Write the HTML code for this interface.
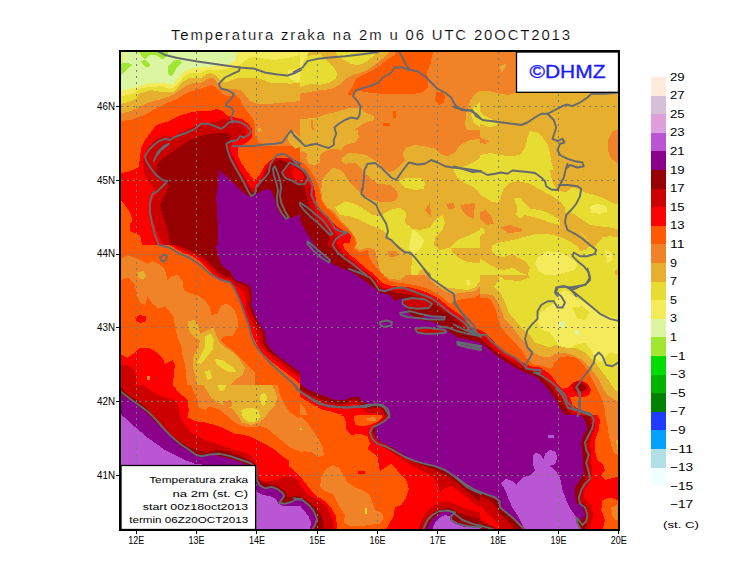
<!DOCTYPE html>
<html><head><meta charset="utf-8"><title>Temperatura zraka na 2m</title>
<style>
html,body{margin:0;padding:0;background:#fff;}
body{width:740px;height:582px;overflow:hidden;font-family:"Liberation Sans",sans-serif;}
svg{display:block;}
text{font-family:"Liberation Sans",sans-serif;fill:#000;}
.th{stroke:#fff;stroke-width:0.18px;paint-order:fill stroke;}
</style></head><body>
<svg width="740" height="582" viewBox="0 0 740 582">
<rect x="0" y="0" width="740" height="582" fill="#fff"/>
<defs>
<clipPath id="c0"><rect x="120" y="51" width="180" height="194"/></clipPath>
<clipPath id="c1"><rect x="120" y="245" width="180" height="140"/></clipPath>
<clipPath id="c2"><rect x="120" y="385" width="180" height="144"/></clipPath>
<clipPath id="c3"><rect x="300" y="51" width="180" height="79"/></clipPath>
<clipPath id="c4"><rect x="300" y="130" width="180" height="145"/></clipPath>
<clipPath id="c5"><rect x="300" y="275" width="180" height="140"/></clipPath>
<clipPath id="c6"><rect x="300" y="415" width="180" height="114"/></clipPath>
<clipPath id="c7"><rect x="480" y="51" width="140" height="119"/></clipPath>
<clipPath id="c8"><rect x="480" y="170" width="140" height="105"/></clipPath>
<clipPath id="c9"><rect x="480" y="275" width="140" height="140"/></clipPath>
<clipPath id="c10"><rect x="480" y="415" width="140" height="114"/></clipPath>
<clipPath id="cm"><rect x="121" y="52" width="497" height="477"/></clipPath>
</defs>
<g shape-rendering="crispEdges">
<g clip-path="url(#c0)">
<rect x="120" y="51" width="180" height="194" fill="#FF5A00"/>
<polygon fill="#F08228" points="115,45 305,45 305,148.8 300,147.5 290,145.5 280,146.2 265,145.5 258.8,142.5 255,135 255,127.5 253.8,120 250,115 246.2,110 242.5,105 240,98.8 235,95 227.5,96.2 222.5,93.8 217.5,88.8 212.5,85 207.5,86.2 202.5,88 195,90 185,93.8 177.5,98.8 165,103.8 152.5,110.5 143.8,115 137.5,117.5 130,120 115,121.5"/>
<polygon fill="#E6AF2D" points="115,45 305,45 305,101.2 300,101.2 285,102.5 270,103.8 257.5,103.8 250,101.2 245,95 240,90 232.5,88.8 225,90 220,86.2 216.2,81.2 212.5,77.5 207.5,78.8 201.2,82.5 195,82.5 187.5,85 180,90 172.5,95 162.5,98.8 152.5,101.2 142.5,105 136.2,108.8 127.5,112 115,114.5"/>
<polygon fill="#E6AF2D" points="287.5,133.8 292.5,130 300,137.5 305,145 295,148.8 288.8,142.5"/>
<polygon fill="#E6AF2D" points="258,128 260.5,128 262,130.5 259.5,132 257.5,130.5"/>
<polygon fill="#E6DC32" points="115,45 305,45 305,82.5 300,82.5 290,83.8 280,82.5 270,82.5 260,78.8 250,77.5 240,77.5 232.5,80 225,82.5 220,80 215,75 211.2,73 207.5,73.8 201.2,78 190,77.5 183.8,81.2 178.8,86.2 173.8,92 162.5,92 150,90 138.8,93.8 136.2,98.8 127.5,102 115,105.5"/>
<polygon fill="#F5EB5A" points="115,45 305,45 305,54.5 300,55 290,57.5 275,60 265,58.8 255,57 248.8,58 242.5,63 235,67 222.5,69.5 207.5,70 201.2,73 190,72.5 183.8,77 178.8,82.5 173.8,88 168.8,88.8 162.5,86.2 150,87 138.8,88.8 136.2,92.5 127.5,95 115,98"/>
<polygon fill="#F5EB5A" points="287.5,70 300,68.8 305,68.8 305,82.5 300,82.5 291.2,80 287.5,75"/>
<polygon fill="#DCF5A0" points="123,45 237.5,45 237.5,51 235,61.2 227.5,64.5 215,66.2 197.5,67.5 190,68.8 183.8,72 177.5,78.8 172.5,85 162.5,82.5 150,82.5 135,87.5 115,92.5 115,67.5 123,62.5"/>
<polygon fill="#A0E632" points="137,50 169.5,50 167.5,55 163,59.5 158,56.5 155,54.5 148.8,55.5 145,59.5 141,55"/>
<polygon fill="#A0E632" points="141,61 145,60 150,65 148,67.5 144,66"/>
<polygon fill="#A0E632" points="120,64 127,62.5 133,65 128,68 124,73 120,76.5"/>
<polygon fill="#A0E632" points="173,61 179,59.5 182,63 177,67 174,73 171,76.5 167.5,73 167.5,67"/>
<polygon fill="#FF0000" points="115,198.8 115,175 123.8,172.5 130,171.2 138.8,167 140,157.5 141.2,147.5 145,140 152.5,130 156.2,125 168.8,121.2 180,115.5 190,112.5 197.5,111.2 210,111.2 216.2,109 222.5,111.2 227.5,115.5 235,117.5 242.5,119.5 248.8,123.8 252.5,130 252,137.5 247.5,142.5 240,146.2 237.5,150 238,156.2 241.2,162.5 245,168.8 250,175 253.8,180 257.5,177.5 261.2,172.5 265,165.5 270,160 277.5,157.5 290,157.5 300,162.5 305,165 305,250 142.5,250 141.2,240 140,235 136.2,233.8 130.5,231.2 129.5,225 132.5,220 130,212.5 125,205 120,198.8"/>
<polygon fill="#CD0000" points="142.5,162.5 145,155 147.5,148.8 152.5,142.5 158.8,137.5 165,135 172.5,137.5 177.5,133.8 187.5,128.8 200,125 207.5,123 215,122 222.5,118.8 230,120 235,122.5 242.5,125 246.2,130 245,136.2 238.8,140 232.5,142.5 230,147.5 232.5,155 236.2,162.5 240,170 245,177.5 250,186.2 253.8,188.8 258.8,183.8 262.5,175 267.5,166.2 273.8,160 280,158 290,160 300,165.5 305,168.8 305,250 165,250 163.8,245 158.8,236.2 155,227.5 151.2,217.5 150,207.5 152.5,200 156.2,192.5 152.5,186.2 147.5,180 143.8,172.5"/>
<polygon fill="#960000" points="157.5,163.8 161.2,160 167.5,155 175,150 182.5,145 190,140 200,136.2 210,133.8 220,132.5 227.5,133 231.2,136.2 228.8,141.2 226.2,147.5 228.8,155 232.5,162.5 236.2,168.8 240,175 245,182.5 250,190 252.5,193 256.2,190 260,185 265,175 270,167.5 275,161.2 281.2,160 290,163.8 300,170 305,172.5 305,250 171.2,250 170,245 168.8,235 166.2,225 162.5,215 160,205 165,195 168.8,186.2 166.2,182.5 160,180 156.2,172.5"/>
<polygon fill="#8B008B" points="218.8,170 225,175 232.5,182.5 245,193.8 251.2,197.5 255,195 261.2,191.2 267.5,188.8 271.2,190.5 275,200 277.5,210 281.2,215 287.5,218.8 293.8,217 300,213.8 305,212.5 305,250 218,250 218,230 217,212.5 216.2,197.5 218,185"/>
<polygon fill="#CD0000" points="283.5,170.6 290.1,163.1 296.7,165 304.3,169.7 308.1,175.4 305.2,182.9 298.6,183.9 291,180.1 285.4,177.3"/>
<polygon fill="#FF0000" points="291,172.5 294.8,167.8 302.4,172.5 304.3,178.2 298.6,180.1 293.9,177.3"/>
</g>
<g clip-path="url(#c1)">
<rect x="120" y="245" width="180" height="140" fill="#FF5A00"/>
<polygon fill="#F08228" points="115,260 120,258.8 127.5,255 137.5,258.8 147.5,263.8 152.5,261.2 158.8,263.8 165,270 167.5,280 171.2,276.2 177.5,275 182.5,281.2 183.8,290 190,293.8 197.5,295 205,300 210,307.5 211.2,315 217.5,313.8 221.2,305 227.5,303.8 233.8,308.8 237.5,317.5 237.5,327.5 232.5,336.2 225,336.2 220,340 225,345 232.5,350 240,357.5 247.5,365 255,372.5 255,390 187.5,390 186.2,375 185,365 182.5,355 181.2,345 177.5,337.5 175,327.5 173.8,317.5 168.8,310 165,306.2 158.8,308.8 152.5,303.8 147.5,296.2 145,305 140,302.5 136.2,293.8 135,285 128.8,277.5 120,280 115,280"/>
<polygon fill="#E6AF2D" points="137.5,272.5 143.8,271.2 146.2,276.2 142.5,280 138,277.5"/>
<polygon fill="#E6AF2D" points="187.5,321.2 195,320 198.8,326.2 200,333.8 207.5,330 213.8,327.5 216.2,335 220,342.5 225,347.5 232.5,352.5 240,360 245,367.5 242.5,375 235,380 225,390 197.5,390 195,375 192.5,365 193.8,355 198.8,347.5 200,340 195,337.5 190,332.5 187.5,326.2"/>
<polygon fill="#E6DC32" points="205,336.2 211.2,333.8 213.8,340 212.5,350 207.5,356.2 201.2,363.8 197.5,362.5 201.2,355 205,347.5"/>
<polygon fill="#E6DC32" points="215,358.8 222.5,360 231.2,366.2 236.2,371.2 230,372.5 222.5,368.8 216.2,363.8"/>
<polygon fill="#E6DC32" points="204.5,371.2 210,370 212.5,377.5 207.5,380"/>
<polygon fill="#FF0000" points="115,352.5 120,353.8 127.5,357.5 135,352.5 140,347.5 147.5,347.5 155,351.2 162.5,357.5 165,363.8 172.5,360 175,365 173.8,375 172.5,390 115,390"/>
<polygon fill="#CD0000" points="115,366.2 126.2,364.5 132.5,367.5 136.2,375 135,390 115,390"/>
<polygon fill="#FF0000" points="135.5,317.5 140,315 145.5,316.2 145.5,321.2 140,323 136.2,321.2"/>
<polygon fill="#F08228" points="147,376.2 149.5,376.2 149.5,379.5 147,379.5"/>
<polygon fill="#FF0000" points="160,237.5 171.2,246.2 182.5,252.5 192.5,256.2 200,261.2 206.2,267.5 212.5,273.8 220,279.5 228.8,282 232.5,286.2 236.2,291.2 240,298.8 242.5,307.5 245,315 247.5,322.5 251.2,332.5 255,341.2 257.5,346.2 262.5,353.8 272.5,362.5 282.5,370 292.5,377.5 300,383.8 305,387.5 305,237.5"/>
<polygon fill="#CD0000" points="163.8,237.5 175,246.2 185,251.2 195,255 202.5,260 208.8,266.2 215,272.5 222.5,278 230,280 234.5,285 240,288.8 245,293.8 246.2,302.5 246.2,308.8 250,317.5 253.8,326.2 258.8,336.2 260,343.8 265,351.2 275,360 285,367.5 295,375 305,381.2 305,237.5"/>
<polygon fill="#960000" points="168.8,237.5 177.5,245.5 187.5,249.5 197.5,253.8 205,258.8 211.2,265 217.5,271.2 225,276.2 231.2,278 236.2,282.5 243.8,285 248.8,288.8 250,297.5 248.8,305 252.5,315 257.5,325 262.5,333.8 262.5,342.5 267.5,350 277.5,357.5 287.5,365 297.5,372.5 305,377 305,237.5"/>
<polygon fill="#8B008B" points="215,237.5 216.2,247.5 218.8,257.5 222.5,266.2 230,271.2 235,280 242.5,282.5 250,286.2 252.5,295 251.2,305 255,315 260,325 265,332.5 266.2,342.5 271.2,350 280,357.5 290,365 300,372.5 305,376.2 305,237.5"/>
</g>
<g clip-path="url(#c2)">
<rect x="120" y="385" width="180" height="144" fill="#FF5A00"/>
<polygon fill="#F08228" points="190,382.5 193.8,392.5 197.5,400 198.8,407.5 205,410 210,406.2 220,410 227.5,416.2 235,422.5 242.5,426.2 251.2,427.5 260,426.2 267.5,428.8 275,435 282.5,441.2 290,447.5 300,451.2 305,452.5 305,420 297.5,417.5 290,412.5 285,405 280,395 277.5,382.5"/>
<polygon fill="#E6AF2D" points="202.5,382.5 206.2,390 211.2,397.5 217.5,402.5 225,406.2 232.5,408.8 237.5,415 242.5,422.5 250,425 258.8,422.5 265,417.5 270,410 275,405 277.5,397.5 275,390 270,382.5"/>
<polygon fill="#F08228" points="222.5,401.2 231.2,400 232.5,406.2 225,407.5"/>
<polygon fill="#E6DC32" points="216.2,382.5 226.2,382.5 225,390 220,391.2"/>
<polygon fill="#E6DC32" points="241.2,410 250,407.5 258.8,410 260,417.5 253.8,422.5 246.2,421.2 242.5,416.2"/>
<polygon fill="#E6DC32" points="259.5,395 265,392.5 267.5,398.8 263.8,406.2 260,402.5"/>
<polygon fill="#FF0000" points="171.2,382.5 177.5,391.2 187.5,400 188.8,410 187.5,417.5 195,421.2 205,422.5 215,425 225,428.8 235,433.8 245,435 255,438.8 265,443.8 275,450 282.5,456.2 289.5,461 288.8,466 294.8,471.2 301.5,478 308.5,486.8 308.5,535 115,535 115,382.5"/>
<polygon fill="#CD0000" points="140,382.5 150,390 157.5,395 165,397.5 175,400 178.8,407.5 180,417.5 185,425 190,431.2 197.5,436.2 207.5,441.2 217.5,443.8 227.5,447.5 237.5,450.5 247.5,453.8 255,460 258,475 260.2,479.8 267.2,481.5 277.5,479.8 284.2,476.2 293,477.2 299,481.5 301.5,486.8 306.8,493.5 307.5,535 115,535 115,382.5"/>
<polygon fill="#960000" points="115,383.8 121.8,388.2 128.5,395 137,400 145.5,407 152.2,414.5 159,422 165,428.8 172.5,436.2 181.2,442.5 190,447.5 198.8,451 207.5,452 217.5,449.5 227.5,451.2 237.5,454.5 247.5,458.8 255.5,464.5 256.8,477.8 262.5,483 271.5,483.8 278.8,486.2 286.2,492.5 287.5,497.5 295,496.2 301.5,495 307.5,497.5 307.5,535 115,535 115,382.5"/>
<polygon fill="#8B008B" points="115,387.5 120,392.5 125,397.5 132.5,401.2 140,407.5 147.5,413.8 155,421.2 162.5,428.8 170,436.2 177.5,443.8 187.5,450 196.2,456.2 205,456.2 215,455 225,457.5 235,460 245,463.8 255,467.5 256.8,480.8 260.2,485.8 265.5,488.5 271.5,486.8 277.5,489.2 282.5,492.8 284.2,496 281,500.5 279.2,503 284.2,503.8 291.2,502 296.2,499.5 301.5,498.8 306.2,502 306.2,535 115,535"/>
<polygon fill="#BA55D3" points="115,410 120,413.8 126.2,418.8 132.5,425 140,431.2 147.5,437.5 156.2,443.8 165,450 175,455 185,460 195,463.8 255,470 255.5,490 256.8,491.8 263.8,495.2 270.5,496 275.8,498.8 278.2,503.8 284.2,506.5 293,505.5 299.8,505.5 304,510.8 306.2,535 115,535"/>
</g>
<g clip-path="url(#c3)">
<rect x="300" y="51" width="180" height="79" fill="#F08228"/>
<polygon fill="#E6AF2D" points="295,45 389.6,45 389.6,51.8 382.8,58.5 376.1,63.6 369.3,68.6 362.6,72 354.1,74.6 345.7,78.8 340.6,83.9 333.9,88.1 325.4,89.8 317,90.6 308.5,92.3 301.8,93.1 295,95.7"/>
<polygon fill="#E6DC32" points="295,60.2 305.1,56.8 311.9,55.1 320.3,54.3 327.1,60.2 333.9,67 337.2,73.7 335.5,78.8 328.8,83 320.3,84.7 311.9,83.9 305.1,85.5 300.1,87.2 295,88.1"/>
<polygon fill="#F5EB5A" points="295,45 309.4,45 309.4,51.8 306.8,56.8 303.4,61 302.6,68.6 300.1,75.4 295,77.9"/>
<polygon fill="#E6DC32" points="333.9,45 376.1,45 376.1,51.8 374.4,55.1 369.3,59.4 362.6,63.6 357.5,65.3 350.7,63.6 344,60.2 337.2,56.8"/>
<polygon fill="#FF5A00" points="398.9,45 433.5,45 432.5,55.1 430.1,65.3 426.8,72 428.4,80.5 428.4,87.2 423.4,92.3 413.2,94 403.1,94 393,94 382.8,94 374.4,93.1 365.9,92.3 359.2,90.6 354.1,92.3 350.7,95.7 347.4,94 352.4,87.2 355.8,78.8 362.6,75.4 369.3,72 377.8,67 386.2,60.2 394.7,55.1"/>
<polygon fill="#FF5A00" points="436.2,92.5 442.5,91.2 445,96.2 443.8,102.5 438.8,105 435,100"/>
<polygon fill="#FF5A00" points="393.2,111.2 395.8,111.2 395.8,117.5 393.2,117.5"/>
<polygon fill="#FF5A00" points="382.5,123.5 390,123 389.5,126 383,126.5"/>
<polygon fill="#E6AF2D" points="317,117.6 325.4,114.3 337.2,111.7 349.1,108.3 359.2,107.5 365.9,112.6 374.4,115.9 374.4,120.2 367.6,121.9 362.6,124.4 357.5,127.8 352.4,131.1 349.1,134.5 352.4,139.6 355.8,143 295,143 295,119.3 305.1,119.3 311.9,117.6"/>
<polygon fill="#F08228" points="311,120.2 313.2,119.3 313.6,129.5 311.6,129.5"/>
<polygon fill="#E6AF2D" points="485,90 480,91.2 475,93.8 470,101.2 466.2,112.5 465,125 467.5,131.2 485,131.2"/>
<polygon fill="#E6DC32" points="485,101.2 478.8,102.5 473.8,107.5 471.2,115 473.8,122.5 480,127.5 485,128.8"/>
</g>
<g clip-path="url(#c4)">
<rect x="300" y="130" width="180" height="145" fill="#F08228"/>
<polygon fill="#E6AF2D" points="295,127.5 357.5,127.5 358.8,137.5 355,142.5 345,145 341.2,150 332.5,148.8 325,151.2 320,155 320,162.5 315,165 308.8,163.8 306.2,158.8 307.5,153.8 302.5,151.2 295,153.8"/>
<polygon fill="#E6AF2D" points="485,137.5 480,138.8 470,140 460,145 455,152.5 447.5,156.2 440,153.8 435,148.8 425,146.2 415,145 406.2,147.5 402.5,153.8 405,160 400,165 395,170 390,172.5 382.5,167.5 377.5,162.5 370,157.5 366.2,155 360,153.8 348.8,152.5 342.5,157.5 341.2,161.2 345,163.8 355,162.5 360,167.5 363.8,172.5 370,177.5 377.5,183.8 390,185 395,188.8 398.8,195 395,201.2 382.5,202.5 372.5,200 365,196.2 357.5,190 350,182.5 345,175 340,170 332.5,167.5 327.5,172.5 322.5,180 321.2,190 322.5,200 327.5,207.5 333.8,211.2 342.5,222.5 348.8,228.8 353.8,235 357.5,242.5 355,247.5 360,250 367.5,247.5 375,250 377.5,260 380,270 381.2,280 485,280"/>
<polygon fill="#F08228" points="425,210 430,202.5 431.2,217.5"/>
<polygon fill="#F08228" points="446.2,203.8 453.8,203 455,208 448.8,210"/>
<polygon fill="#F08228" points="460,205 475,203 473.8,218.8 467.5,216.2 462.5,211.2"/>
<polygon fill="#F08228" points="388,251.2 396.2,250.5 397.5,256.2 388.8,257.5"/>
<polygon fill="#E6DC32" points="335,207.5 345,201.2 355,203.8 365,210 372.5,215 380,216.2 390,210 400,207.5 406.2,212.5 405,222.5 412.5,228.8 420,230 430,227.5 435,220 442.5,215 445,222.5 442.5,230 435,237.5 433.8,245 440,250 450,247.5 457.5,240 470,235 480,230 485,228.8 485,282.5 435,282.5 431.2,273.8 425,268.8 420,270 415,280 410,280 412.5,255 405,250 395,242.5 390,237.5 382.5,230 370,225 360,220 350,216.2 340,215"/>
<polygon fill="#E6DC32" points="453,169 465.8,166.2 474.2,162 483,156 486.2,153.8 486.2,198.8 483,196.2 474.2,187.8 465.8,183.5 457.2,177.5"/>
<polygon fill="#E6DC32" points="398.8,181.2 407.5,177.5 420,177.5 425,182.5 423.8,188.8 415,190 405,187.5"/>
<polygon fill="#F5EB5A" points="412.5,230 417.5,232.5 423.8,240 421.2,247.5 415,253.8 408.8,250 410,240"/>
<polygon fill="#E6AF2D" points="451,247.5 485,247.5 485,262.5 475,263 465,261.2 457.5,257.5 452.5,252.5"/>
<polygon fill="#FF5A00" points="295,157.5 302.5,162.5 310,170 316.2,180 320,190 321.2,200 326.2,207.5 332.5,212.5 335,216.2 342.5,223.8 348.8,230 353.8,236.2 356.2,243.8 353.8,248.8 360,252.5 367.5,250 370,258.8 375,266.2 381.2,272.5 390,280 295,280"/>
<polygon fill="#FF0000" points="295,162.5 301.2,167.5 307.5,175 312.5,182.5 315,192.5 316.2,202.5 320,210 327.5,216.2 335,225 342.5,230 351.2,235 350,242.5 342.5,243.8 345,250 355,258.8 365,267.5 375,275 381.2,280 295,280"/>
<polygon fill="#CD0000" points="295,167.5 300,170 305,177.5 310,186.2 311.2,197.5 313.8,207.5 320,216.2 327.5,223.8 333.8,230 338.8,237.5 336.2,242.5 340,248.8 350,258.8 362.5,269.5 373.8,277.5 377.5,280 295,280"/>
<polygon fill="#960000" points="295,173.8 298.8,176.2 303.8,183.8 306.2,195 308.8,205 312.5,215 318.8,222.5 325,230 330,237.5 327.5,245 337.5,252.5 347.5,262.5 360,271.2 372.5,281.2 295,281.2"/>
<polygon fill="#8B008B" points="295,215 300,220 305,230 310,237.5 317.5,248.8 325,257.5 332.5,263.8 340,267.5 350,271.2 360,277.5 365,280 295,280"/>
<polygon fill="#CD0000" points="283.5,170.6 290.1,163.1 296.7,165 304.3,169.7 308.1,175.4 305.2,182.9 298.6,183.9 291,180.1 285.4,177.3"/>
<polygon fill="#FF0000" points="291,172.5 294.8,167.8 302.4,172.5 304.3,178.2 298.6,180.1 293.9,177.3"/>
</g>
<g clip-path="url(#c5)">
<rect x="300" y="275" width="180" height="140" fill="#8B008B"/>
<polygon fill="#960000" points="337.5,266.2 350,271.2 360,277.5 370,285 380,292.5 390,295 395,301.2 401.2,297.5 403.8,305 407.5,311.2 412.5,316.2 420,320 430,321.2 437.5,323.8 445,327.5 450,332.5 457.5,337.5 470,340 480,342.5 485,343.8 485,267.5"/>
<polygon fill="#CD0000" points="345,260 360,271.2 372.5,281.2 380,288.8 392.5,292 402.5,293.8 410,295 420,297.5 430,301.2 437.5,306.2 442.5,311.2 448.8,313.8 455,318.8 460,323.8 465,330 475,333.8 485,336.2 485,267.5"/>
<polygon fill="#CD0000" points="403.8,300 412.5,298.8 425,300 431.2,303.8 427.5,307.5 415,307.5 406.2,306.2"/>
<polygon fill="#CD0000" points="417.5,329.5 430,328 445,329.5 447.5,332.5 435,333.8 420,332.5"/>
<polygon fill="#8B008B" points="423.8,316.2 445,316.2 445,320 423.8,320"/>
<polygon fill="#FF0000" points="351.2,260 362.5,270 373.8,277.5 379.5,285 385,288 395,289.5 405,290 415,292.5 425,295 433.8,298.8 441.2,305 447.5,310 455,315 461.2,320 466.2,326.2 475,331.2 485,333.8 485,267.5"/>
<polygon fill="#FF5A00" points="355,260 365,268.8 375,275 382.5,283 390,285.5 400,287 410,287.5 420,290 430,293.8 437.5,297.5 445,303.8 451.2,308.8 458.8,313.8 465,320 470,326.2 480,330 485,331.2 485,267.5"/>
<polygon fill="#F08228" points="362.5,258.8 370,266.2 380,272.5 388.8,280.5 397.5,282.5 407.5,283.8 417.5,285.5 427.5,288.8 435,292.5 442.5,297.5 450,303.8 457.5,300 465,298.8 475,297.5 480,293.8 485,293.8 485,267.5"/>
<polygon fill="#E6AF2D" points="378.8,267.5 405,267.5 405,276.2 400,280 390,278.8 381.2,273.8"/>
<polygon fill="#E6AF2D" points="422.5,267.5 427.5,277.5 435,285 445,291.2 455,293.8 465,292.5 475,291.2 481.2,285 485,282.5 485,267.5"/>
<polygon fill="#E6DC32" points="425,267.5 431.2,277.5 438.8,283.8 447.5,287.5 457.5,288.8 467.5,290 475,287.5 480,281.2 481.2,267.5"/>
<polygon fill="#F5EB5A" points="466.2,280.5 469.5,280 470,284.5 467,285"/>
<polygon fill="#960000" points="295,378.8 300,383.8 306.2,388.8 315,392.5 325,396.2 335,400 345,400 351.2,397 358.8,397.5 363.8,402.5 372.5,404.5 381.2,403.8 386.2,407.5 388.8,415 390,420 295,420"/>
<polygon fill="#CD0000" points="295,383.8 300,388.8 307.5,393.8 316.2,397.5 325,401.2 335,403.8 345,403.8 351.2,400 357.5,400.5 362.5,406.2 370,408.8 380,407.5 383.8,411.2 385,420 295,420"/>
<polygon fill="#FF0000" points="295,387.5 300,392.5 307.5,397.5 316.2,402 325,405 335,407 345,407 351.2,403.8 356.2,403.8 361.2,408.8 367.5,412.5 377.5,412.5 381.2,420 295,420"/>
<polygon fill="#FF5A00" points="295,392.5 301.2,397.5 308.8,402.5 316.2,406.2 322.5,410 330,411.2 337.5,413.8 345,415 347.5,420 295,420"/>
<polygon fill="#F08228" points="295,400 300,403.8 305,408.8 307.5,415 308.8,420 295,420"/>
</g>
<g clip-path="url(#c6)">
<rect x="300" y="415" width="180" height="114" fill="#FF5A00"/>
<polygon fill="#F08228" points="295,415 300,416.2 307.5,422.5 312.5,430 317.5,437.5 322.5,447.5 323.8,455 318.8,457.5 312.5,452.5 305,451.2 295,452.5"/>
<polygon fill="#F08228" points="321.2,477.5 325,470 332.5,465 338.8,467.5 343.8,475 347.5,482.5 355,487.5 362.5,490 370,495 372.5,502.5 375,510 381.2,512.5 383.8,517.5 380,523.8 370,525 360,526.2 350,526.2 343.8,522.5 345,515 340,507.5 336.2,500 332.5,493.8 325,491.2 320,486.2"/>
<polygon fill="#E6DC32" points="295.8,425.5 298,425 302,429.5 300,430.5"/>
<polygon fill="#E6DC32" points="365,507.5 366.5,507.5 366.5,513.8 365,513.8"/>
<polygon fill="#FF0000" points="295,400 305,403.8 315,408.8 325,411.2 335,413.8 343.8,416.2 346.2,422.5 346.2,430 351.2,435 360,433.8 367.5,436.2 370,443.8 367.5,448.8 372.5,452.5 377.5,457.5 378.8,465 380,471.2 385,467.5 391.2,463.8 395,467.5 400,473.8 406.2,480 408.8,488.8 406.2,497.5 401.2,505 395,507.5 393.8,515 390,522.5 386.2,528.8 385,540 485,540 485,387.5 295,387.5"/>
<polygon fill="#FF5A00" points="353.8,416.2 362.5,413.8 372.5,412.5 381.2,412 382.5,416.2 378.8,421.2 370,425 362.5,426.2 355,425"/>
<polygon fill="#F08228" points="366.2,418 375,417 376.2,420.5 367.5,421.5"/>
<polygon fill="#FF0000" points="295,472.5 301.5,478 308.5,486.8 315.2,495.2 323.8,500.5 330.8,507.2 335.8,515.8 337.5,529.5 338,540 295,540"/>
<polygon fill="#FF0000" points="357.5,470.8 365,470.5 365,473.5 358,473.8"/>
<polygon fill="#CD0000" points="295,395 305,400 315,405 325,407.5 335,410 345,410 355,408.8 365,409.5 375,407.5 382.5,408.8 385,413.8 381.2,420 375,425 370,430 371.2,436.2 376.2,442.5 382.5,446.2 390,451.2 397.5,456.2 405,461.2 412.5,466.2 420,470 427.5,473.8 435,478.8 438.8,486.2 440,492.5 443.8,488.8 450,486.2 457.5,490 465,496.2 472.5,502.5 480,507.5 485,510 485,387.5 295,387.5"/>
<polygon fill="#960000" points="295,391.2 305,396.2 315,401.2 325,404.5 335,407 345,406.2 352.5,401.2 360,403.8 367.5,406.2 375,404.5 383.8,405.5 388.8,411.2 386.2,418.8 378.8,423.8 372.5,428.8 373.8,435 378.8,441.2 385,443.8 395,450 405,456.2 415,462.5 425,466.2 435,470 445,475 455,481.2 462.5,487.5 470,493.8 477.5,500 485,503.8 485,387.5 295,387.5"/>
<polygon fill="#8B008B" points="295,387.5 302.5,392.5 310,397.5 318.8,402.5 327.5,405 337.5,406.2 347.5,405 352.5,398.8 358.8,400 367.5,403.8 375,402.5 382.5,403.8 388.8,408.8 390,415 385,421.2 377.5,426.2 375,431.2 376.2,437.5 381.2,442.5 390,446.2 400,452.5 410,458.8 420,463 430,465 440,468.8 450,473.8 457.5,480 465,486.2 472.5,491.2 480,493.8 485,496.2 485,387.5"/>
<polygon fill="#CD0000" points="415,540 417.5,530 421.2,520 426.2,512.5 432.5,506.2 440,502.5 447.5,501.2 455,503.8 462.5,507.5 470,510 480,512.5 485,513.8 485,540"/>
<polygon fill="#960000" points="420,540 422.5,530 426.2,521.2 431.2,515 437.5,510 445,507.5 452.5,508.8 457.5,512.5 465,515 475,517.5 485,518.8 485,540"/>
<polygon fill="#8B008B" points="423.8,540 426.2,530 430,522.5 435,516.2 441.2,512.5 448.8,511.2 455,513.8 451.2,517.5 455,521.2 465,525 475,526.2 485,527.5 485,540"/>
<polygon fill="#BA55D3" points="430,540 432,530 435,522.5 440,517.5 445,515 450,516.2 450,520 455,523.8 465,527 480,528 485,528.8 485,540"/>
<polygon fill="#CD0000" points="295,481.2 301.5,486.8 306.8,493.5 313.5,497.8 322,502 328.2,509 332.5,517.5 334.2,529.5 334.5,540 295,540"/>
<polygon fill="#960000" points="295,493.8 302.5,497.5 310,502.5 317.5,508.8 322.5,517.5 323.8,528.8 323.8,540 295,540"/>
<polygon fill="#8B008B" points="295,497.5 301.5,498.8 305,501.2 309.2,505.5 312.8,510.8 316,517.5 314.5,523.5 311.8,528.8 310,540 295,540"/>
<polygon fill="#BA55D3" points="295,503.8 299.8,505.5 304,510.8 308.5,515.8 311,522.8 310,529.5 308.8,540 295,540"/>
</g>
<g clip-path="url(#c7)">
<rect x="480" y="51" width="140" height="119" fill="#E6AF2D"/>
<polygon fill="#F08228" points="455,45 516.2,45 516.2,92.5 508.8,95 500,93.8 490,91.2 480,91.2 470,95 466.2,102.5 465,110 463.8,120 467.5,127.5 475,133.8 482.5,138.8 490,141.2 485,143.8 475,142.5 465,143.8 455,147.5"/>
<polygon fill="#E6AF2D" points="500,66.2 506.2,63.8 505,68.8 501.2,72"/>
<polygon fill="#FF5A00" points="461.2,51 470.5,51 470,54.5 462,54.5"/>
<polygon fill="#F08228" points="620,128.8 612.5,131.2 608,140 607.5,150 611.2,158.8 620,165"/>
<polygon fill="#E6DC32" points="472.5,110.5 477.5,109.5 485,116.2 495,121.2 497.5,125 490,127.5 480,123.8 475,118.8"/>
<polygon fill="#E6DC32" points="455,168.8 462.5,165 472.5,160 480,155 490,153 500,155 510,156.2 520,155 525,147.5 527.5,137.5 530,131.2 537.5,132.5 542.5,137.5 547.5,143.8 550,152.5 551.2,162.5 555,172.5 557.5,181.2 565,185 572.5,190 575,195 455,195"/>
<polygon fill="#F5EB5A" points="455,175 462.5,171.2 470,172.5 477.5,177.5 482.5,183.8 480,190 475,195 455,195"/>
</g>
<g clip-path="url(#c8)">
<rect x="480" y="170" width="140" height="105" fill="#E6DC32"/>
<polygon fill="#E6AF2D" points="455,150 522.5,150 520,155 505,157.5 492.5,155 480,160 470,161.2 455,165"/>
<polygon fill="#E6AF2D" points="550,150 645,150 645,200 615,203.8 605,198.8 595,195 585,192.5 580,190 572.5,187.5 565,192.5 557.5,190 552.5,182.5 550,172.5 548.8,162.5"/>
<polygon fill="#F08228" points="620,150 610,150 611.2,157.5 616.2,163.8 620,165"/>
<polygon fill="#E6AF2D" points="455,180 467.5,185 477.5,192.5 483,196.2 491.5,201.5 498.5,203.2 503.5,189.5 508.8,183.5 517.2,181 529.2,183.5 540,189.5 550,195 558.8,200 565,207.5 566.2,217.5 572.5,225 580,232.5 585,237.5 591.2,245 585,250 580,251.2 577.5,246.2 567.5,240 557.5,236.2 547.5,233.8 535,233.8 527.5,236.2 517.5,238.8 507.5,241.2 498.8,242.5 492.5,245 491.2,250 495,255 502.5,257.5 512.5,253.8 517.5,257.5 525,261.2 530,267.5 527.5,275 520,272.5 512.5,267.5 505,270 497.5,268.8 490,265 482.5,260 475,257.5 465,257.5 455,260 455,247.5 465,245 475,240 485,232.5 482.5,227.5 472.5,228.8 462.5,233.8 455,237.5"/>
<polygon fill="#E6DC32" points="513.8,198.8 520,197.5 525,203.8 530,208.8 540,210 550,213.8 560,220 560,225 550,222.5 540,218.8 530,216.2 525,215 520,218.8 516.2,215 517.5,207.5"/>
<polygon fill="#E6AF2D" points="566.2,212.5 573.8,213.8 582.5,220 590,225 600,226.2 610,227.5 620,229.5 620,237.5 610,236.2 602.5,237.5 597.5,242.5 593.8,248.8 590,243.8 585,236.2 577.5,230 570,223.8 566.2,217.5"/>
<polygon fill="#E6AF2D" points="470,290 477.5,282.5 487.5,280 497.5,282.5 505,288.8 502.5,295 475,300"/>
<polygon fill="#F08228" points="460,206.2 467.5,202.5 475,206.2 472.5,217.5 466.2,216.2 461.2,211.2"/>
<polygon fill="#F08228" points="478.8,212.5 485,210 491.2,216.2 493.8,223.8 486.2,225 480,218.8"/>
<polygon fill="#F08228" points="501.2,227.5 508.8,225 522.5,228.8 521.2,232 507.5,233"/>
<polygon fill="#F08228" points="475,293.8 482.5,288.8 490,291.2 492.5,300 475,300"/>
<polygon fill="#F5EB5A" points="590,206.2 597.5,203.8 606.2,206.2 607.5,211.2 600,213.8 591.2,212.5"/>
<polygon fill="#F5EB5A" points="537.5,257.5 547.5,251.2 560,252.5 570,257.5 577.5,263.8 575,270 565,272.5 555,275 545,275 538.8,271.2 535,263.8"/>
<polygon fill="#F5EB5A" points="605,250 611.2,252.5 612.5,260 607.5,262.5"/>
<polygon fill="#E6AF2D" points="615,270 620,268.8 620,290 615,287.5"/>
</g>
<g clip-path="url(#c9)">
<rect x="480" y="275" width="140" height="140" fill="#E6DC32"/>
<polygon fill="#F5EB5A" points="556.2,295 565,290 572.5,295 580,300 587.5,305 595,310 605,315 620,320 620,355 610,352.5 605,357.5 600,362.5 595,357.5 591.2,350 585,342.5 575,345 567.5,350 560,347.5 555,340 550,332.5 542.5,330 537.5,322.5 540,312.5 547.5,307.5 555,302.5"/>
<polygon fill="#E6AF2D" points="498.2,267.5 529.2,267.5 529.2,277.5 520,281 505,280 498.2,275"/>
<polygon fill="#E6DC32" points="572.5,307.5 582.5,306.2 590,312.5 585,320 577.5,318.8"/>
<polygon fill="#DCF5A0" points="558.8,322 564.5,321.2 565,327 559.5,327.5"/>
<polygon fill="#DCF5A0" points="575,330.5 578.8,330 579,334.5 575.5,335"/>
<polygon fill="#E6AF2D" points="470,267.5 500,267.5 498.8,280 492.5,288.8 482.5,289.5 476.2,285 472.5,275"/>
<polygon fill="#E6AF2D" points="455,280 465,283.8 475,286.2 482.5,285 492.5,285 500,292.5 505,302.5 508.8,312.5 515,320 522.5,328.8 530,335 535,342.5 542.5,345 550,347.5 555,345 565,347.5 575,347.5 585,352.5 595,362.5 602.5,372.5 610,382.5 615,390 620,392.5 620,420 455,420"/>
<polygon fill="#F08228" points="455,288.8 465,292.5 475,293.8 485,293.8 492.5,295 497.5,301.2 501.2,310 505,320 512.5,327.5 520,337.5 527.5,345 532.5,352.5 540,356.2 550,357.5 555,353.8 562.5,352.5 572.5,355 582.5,360 590,367.5 597.5,377.5 602.5,387.5 607.5,395 615,400 620,402.5 620,420 455,420"/>
<polygon fill="#FF5A00" points="455,297.5 462.5,301.2 470,300 480,297.5 490,298.8 495,307.5 497.5,317.5 501.2,327.5 507.5,335 515,342.5 521.2,350 526.2,357.5 532.5,363.8 542.5,366.2 551.2,368.8 555,362.5 560,357.5 567.5,356.2 575,357.5 580,361.2 587.5,370 592.5,380 597.5,390 602.5,400 605,410 605,420 455,420"/>
<polygon fill="#FF0000" points="455,311.2 460,315 465,320 470,323.8 477.5,328.8 485,332.5 492.5,340 500,348.8 507.5,353.8 515,357.5 522.5,362.5 530,366.2 540,367.5 547.5,372.5 552.5,377.5 557.5,383.8 562.5,388.8 567.5,387.5 572.5,382.5 580,380 587.5,383.8 591.2,390 588.8,395 582.5,397.5 575,396.2 570,397.5 572.5,405 580,410 587.5,413.8 595,417.5 597.5,420 455,420"/>
<polygon fill="#CD0000" points="455,316.2 460,320 467.5,326.2 477.5,332.5 485,337.5 492.5,345 500,352.5 507.5,357.5 517.5,362.5 525,367.5 535,370 542.5,373.8 548.8,380 553.8,386.2 558.8,392.5 563.8,400 567.5,406.2 572.5,411.2 580,415 585,420 455,420"/>
<polygon fill="#CD0000" points="571.2,385 577.5,381.2 585,382.5 588.8,387.5 586.2,392.5 580,393.8 573.8,391.2"/>
<polygon fill="#960000" points="577.5,383.8 583.8,383.8 586.2,388.8 581.2,391.2 577.5,388.8"/>
<polygon fill="#960000" points="455,321.2 460,325 467.5,331.2 477.5,337 487.5,345 495,351.2 502.5,356.2 510,361.2 520,367.5 530,371.2 537.5,373.8 543.8,378.8 550,386.2 555,392.5 560,400 565,407.5 570,412.5 575,417.5 577.5,420 455,420"/>
<polygon fill="#8B008B" points="455,326.2 462.5,332.5 470,337.5 480,342.5 490,350 497.5,356.2 505,361.2 515,367.5 525,372.5 535,376.2 541.2,381.2 547.5,388.8 552.5,395 557.5,402.5 561.2,410 565,415 567.5,420 455,420"/>
</g>
<g clip-path="url(#c10)">
<rect x="480" y="415" width="140" height="114" fill="#8B008B"/>
<polygon fill="#BA55D3" points="501.2,483.8 506.2,478.8 512.5,481.2 516.2,485 522.5,477.5 530,475 535,470 532.5,462.5 532.5,456.2 536.2,452.5 541.2,455 543.8,460 545,453.8 550,450 555,451.2 557.5,457.5 555,463.8 550,466.2 555,470 560,477.5 562.5,490 566.2,500 571.2,510 576.2,517.5 580,525 582.5,528.8 582.5,540 527.5,540 522.5,525 517.5,515 512.5,507.5 508.8,500 506.2,492.5 503.8,487.5"/>
<polygon fill="#BA55D3" points="547.5,435.5 553.8,435 553.8,438 548.8,438.5"/>
<polygon fill="#960000" points="455,475 462.5,481.2 470,487.5 480,492.5 490,496.2 498.8,500 501.2,507.5 507.5,512.5 515,518.8 521.2,525 525,528.8 527.5,540 455,540"/>
<polygon fill="#CD0000" points="455,481.2 462.5,486.2 470,491.2 480,496.2 490,501.2 496.2,506.2 500,513.8 506.2,520 512.5,526.2 515,540 492.5,540 492.5,526.2 482.5,522.5 472.5,517.5 462.5,513.8 455,510"/>
<polygon fill="#FF0000" points="455,488.8 462.5,491.2 468.8,495 476.2,501.2 482.5,507.5 487.5,513.8 495,520 500,526.2 497.5,528.8 490,525 480,518.8 470,512.5 462.5,507.5 455,503.8"/>
<polygon fill="#960000" points="553.8,387.5 560,392.5 565,400 566.2,407.5 572.5,411.2 580,415 585,420 587.5,427.5 583.8,435 581.2,442.5 582.5,452.5 582.5,462.5 583.8,472.5 580,480 575,487.5 574.5,495 576.2,502.5 582.5,507.5 585,515 581.2,520 577.5,517.5 576.2,522.5 580,528.8 582.5,540 645,540 645,387.5"/>
<polygon fill="#CD0000" points="557.5,387.5 563.8,392.5 568.8,400 570,406.2 576.2,409.5 583.8,413 590,417.5 592,426.2 588.8,435 586.2,443.8 587.5,452.5 587,462.5 588.8,472.5 585,480 580,488.8 579.5,496.2 581.2,502.5 586.2,506.2 588.8,515 586.2,522.5 585,528.8 586.2,540 645,540 645,387.5"/>
<polygon fill="#FF0000" points="562.5,387.5 567.5,392.5 572.5,398.8 573.8,405 580,407.5 587.5,410.5 593.8,415 595.5,425 592.5,435 590,443.8 591.2,452.5 591.2,462.5 592.5,472.5 590,481.2 585,488.8 583.8,496.2 586.2,501.2 591.2,505 593.8,515 591.2,522.5 591.2,528.8 592.5,540 645,540 645,387.5"/>
<polygon fill="#FF5A00" points="580,387.5 581.2,397.5 582.5,405 590,407.5 596.2,412.5 600,420 598.8,430 595,440 594.5,450 597.5,460 602.5,463.8 605,470 601.2,475 605,480 615,477.5 620,476.2 620,387.5"/>
<polygon fill="#F08228" points="585,397.5 591.2,398.8 595,405 600,408.8 605,415 607.5,425 608.8,435 611.2,445 613.8,452.5 617.5,455 620,456.2 620,387.5 605,387.5 602.5,395 595,396.2"/>
<polygon fill="#E6AF2D" points="610,387.5 611.2,395 615,398.8 620,400 620,387.5"/>
<polygon fill="#E6AF2D" points="616.2,440 620,438.8 620,451.2 617,450"/>
<polygon fill="#FF5A00" points="602.5,500 610,497.5 617.5,500 620,501.2 620,540 605,540 602.5,530 605,520 601.2,510"/>
<polygon fill="#F08228" points="611.2,507.5 617.5,505 620,506.2 620,520 615,520 612,515"/>
</g>
</g>
<g stroke="#7a7a7a" stroke-width="1" stroke-dasharray="2,4" fill="none" shape-rendering="crispEdges">
<line x1="136.5" y1="52" x2="136.5" y2="529"/>
<line x1="196.5" y1="52" x2="196.5" y2="529"/>
<line x1="256.5" y1="52" x2="256.5" y2="529"/>
<line x1="317.5" y1="52" x2="317.5" y2="529"/>
<line x1="377.5" y1="52" x2="377.5" y2="529"/>
<line x1="437.5" y1="52" x2="437.5" y2="529"/>
<line x1="498.5" y1="52" x2="498.5" y2="529"/>
<line x1="558.5" y1="52" x2="558.5" y2="529"/>
<line x1="121" y1="106.5" x2="619" y2="106.5"/>
<line x1="121" y1="180.5" x2="619" y2="180.5"/>
<line x1="121" y1="254.5" x2="619" y2="254.5"/>
<line x1="121" y1="327.5" x2="619" y2="327.5"/>
<line x1="121" y1="401.5" x2="619" y2="401.5"/>
<line x1="121" y1="475.5" x2="619" y2="475.5"/>
</g>
<g clip-path="url(#cm)" stroke="#666a6e" stroke-width="1.9" fill="none" stroke-linejoin="round" stroke-linecap="round">
<polyline points="158.8,245 155,235 152.5,225 150,212.5 150,202.5 152.5,193.8 157.5,191.2 161.2,187.5 165,183.8 167.5,181.2 162.5,180 156.2,175 151.2,168.8 146.2,161.2 145,156.2 148.8,150 153.8,145 158.8,141.2 165,138.8 170,140 173.8,137.5 180,135 187.5,132.5 195,128.8 201.2,123.8 208.8,123.8 215,126.2 221.2,128.8 225,126.2 228.8,122.5 235,121.2 241.2,122.5 247.5,126.2 251.2,131.2 248.8,135 243.8,137.5 240,136.2 237.5,140 231.2,141.2 226.2,143.8 227.5,150 230,157.5 233.8,165 238.8,173.8 243.8,182.5 247.5,190 251.2,196.2 255,193.8 256.2,187.5 260,182.5 265,177.5 268.8,172.5 270,165 273.8,158.8 277.5,155 283.8,153.8 290,157.5 295,161.2 301.2,163.8"/>
<polyline points="153.8,161.2 156.2,156.2 161.2,150 167.5,145 168.8,143.8 163.8,146.2 157.5,152.5 153.8,161.2"/>
<polyline points="232.5,122.5 231.2,117.5 233.8,111.2 231.2,107.5 226.2,106.2 226.2,103.8 231.2,98.8 233.8,93.8 227.5,90 221.2,88.8 218.8,83.8 225,77.5 232.5,73.8 238.8,71.2 240,67.5"/>
<polyline points="157.5,51 165,55 177.5,58 197.5,61.5 215,64 232.5,66.5 240,67.5 255,68.8 265,72.5 277.5,74.5 287.5,75.5 295,73 301.2,70"/>
<polyline points="232.5,146.2 245,146.2 255,145.8 265,144.5 275,143.8 282.5,142.5 287.5,135 291.2,130.5 293.8,135 301.2,142"/>
<polygon points="275,166.2 277.5,172.5 280,180 281.2,187.5 280,195 281.2,202.5 285,211.2 288.8,217.5 286.2,218.8 281.2,212.5 277.5,205 277,197.5 278,190 276.2,182.5 273.8,175 273,168.8"/>
<polyline points="293.8,72 302.5,67.5 307.5,61.2 317.5,58.8 330,57.5 345,56.2 360,54.5 375,52.5 380,51"/>
<polyline points="398.8,51 402.5,57.5 406.2,65 410,70 417.5,71.2 425,76.2 431.2,82.5 437.5,88.8 445,92.5 451.2,97.5 455,105 461.2,110 470,110.5 476.2,113.8 481.2,118.8"/>
<polyline points="410,70 402.5,67.5 395,67.5 391.2,72.5 387.5,75 382.5,77.5 378.8,82.5 370,86.2 360,88.8 355,91.2 353,96.2 357.5,101.2 360.5,106.2 359.5,115 357.5,118.8 351.2,117.5 345,120 338.8,123.8 334.5,127.5 336.2,133.8 333.8,140 333.8,145 328.8,148 322.5,146.2 316.2,143.8 310,145 305,146.2 298.8,140 293.8,135.5"/>
<polyline points="362.5,190 363.8,180 364.5,170 367.5,163.8 375,163 381.2,167.5 386.2,172.5 391.2,177.5 396.2,180 401.2,172.5 405,167.5 408.8,162.5 417.5,164.5 425,163.8 431.2,160 437.5,162.5 445,166.2 452.5,167.5 465,168.8 481.2,171.2"/>
<polyline points="453.8,107 465,110 472.5,110.5 476.2,116.2 482.5,120 492.5,121.2 502.5,122.5 512.5,123.8 521.2,125 527.5,122.5 535,117.5 541.2,113.8 547.5,113.8 555,110 562.5,106.2 566.2,104.5 572.5,106.2 580,102.5 587.5,97.5 591.2,93.8 605,93.8 620,92.5"/>
<polyline points="547.5,113.8 553.8,120 556.2,127.5 553.8,135 552.5,138.8 557.5,141.2 562.5,138.8 564.5,142.5 560,143.8 557.5,150 560,155 567.5,158.8 575,161.2 582.5,162.5 583.8,166.2 577.5,167.5 570,165 567.5,167.5"/>
<polyline points="453.8,166.5 465,169.5 472.5,172 480,171.2 487.5,175 495,173.8 501.2,172.5 507.5,173.8 512.5,170.5 520,171.2 527.5,172 535,173 541.2,177.5 545,181.2 546.2,186.2 551.2,189.5 557.5,190 560,185 563.8,177.5 566.2,167.5 567.5,163.8"/>
<polyline points="560,185 567.5,185 577.5,186.2 581.2,188.8 580,196.2 576.2,203.8 571.2,210 566.2,215 565,222.5 567.5,230 575,233.8 582.5,238.8 590,245 596.2,250 595,253.8 587.5,256.2 580,256.2 573.8,252.5 572.5,256.2 577.5,261.2 583.8,266.2 588.8,272.5 590,280 585,285 577.5,286.2 570,287.5 562.5,286.2 556.2,287.5 555,292.5 557.5,296.2"/>
<polyline points="570,287.5 572.5,291.2 576.2,296.2"/>
<polyline points="362,188.8 361.2,193.8 365,197.5 371.2,201.2 376.2,205 378.8,211.2 382.5,217.5 386.2,223.8 388,231.2 386.2,237.5 391.2,240 395,243.8 400,248.8 405,252.5 410,252.5 415,257.5 420,263.8 425,270 430,276.2"/>
<polyline points="293.8,161.2 300,167.5 305,172.5 310,178.8 312.5,186.2 311.2,195 315,202.5 320,210 327.5,217.5 332.5,223.8 335,228.8 340,231.2 347.5,232.5 341.2,235 336.2,238.8 332.5,245 337.5,252.5 345,258.8 352.5,263.8 360,270 367.5,276.2"/>
<polygon points="300,202.5 307.5,207.5 315,213.8 322.5,220 327.5,226.2 332.5,233.8 330,235 323.8,228.8 317.5,222.5 310,216.2 303.8,210 300,205"/>
<polygon points="307.5,241.2 315,247.5 322.5,253.8 330,260 328.8,262.5 321.2,257.5 313.8,251.2 307.5,243.8"/>
<polyline points="348.8,268.8 360,273 370,277.5 375,283.8 378.8,290 385,291.2 395,288 402.5,287.5 410,290 420,293.8 430,297.5 437.5,302.5 445,308.8 451.2,313.8 457.5,317.5 463.8,322.5 470,330 481.2,335.5"/>
<polygon points="402.5,300 412.5,298 425,299.5 432,303.8 428.8,308 417.5,308.8 407.5,307.5 402.5,303.8"/>
<polygon points="400,313 410,311.2 420,313.8 431.2,316.2 445,317 444.5,319.5 430,319.5 417.5,318 407.5,317 401.2,315"/>
<polygon points="415,328.8 425,327.5 435,328.8 445,330 446.2,332.5 435,333.8 425,333.8 417.5,332.5"/>
<polygon points="380,322 386.2,320.5 392,322 391.2,325.5 385,327 380.5,325.5"/>
<polyline points="457.5,342 467.5,343.8 481.2,346.2"/>
<polyline points="457.5,342 457.5,344.5 467.5,347 481.2,349"/>
<polyline points="437.5,326.2 447.5,327.5 457.5,331.2 467.5,333.8 477.5,335.5 481.2,337"/>
<polyline points="423.8,268.8 430,277.5 438.8,283.8 447.5,290 453.8,293.8 455,302.5 460,310 467.5,318.8 473.8,325 476.2,330 470,331.2 467.5,328.8"/>
<polyline points="293.8,384.5 301.2,392.5 310,397.5 318.8,402.5 327.5,406.2 337.5,407 347.5,407.5 357.5,407 367.5,405 377.5,404.5 383.8,407 387.5,412.5 389.5,417.5"/>
<polyline points="453.8,302.5 462.5,313.8 467.5,323.8 475,331.2 480,335 486.2,334.5 490,340 497.5,346.2 505,352.5 515,357.5 522.5,363.8 527.5,368.8 535,370 541.2,370 540,373 533.8,372.5 542.5,376.2 550,381.2 557.5,387.5 565,395 567.5,402.5 575,408.8 582.5,412.5 591.2,415.5"/>
<polyline points="453.8,324.5 465,330 475,333.8 480,335"/>
<polygon points="457.5,342.5 467.5,344.5 480,347.5 481.2,350 470,348 458.8,345"/>
<polyline points="587.5,268.8 590,277.5 586.2,283.8 577.5,287.5 571.2,290 565,286.2 557.5,287.5 556.2,292.5 561.2,296.2 565,302.5 562.5,307.5 557.5,307.5 553.8,301.2 547.5,301.2 541.2,305 537.5,311.2 537.5,318.8 532.5,323.8 527.5,330 525,338.8 527.5,347.5 532.5,352.5 530,357.5 526.2,363.8 526.2,368.8"/>
<polyline points="571.2,290 577.5,295 585,301.2 592.5,307.5 600,313.8 610,318.8 620,321.2"/>
<polyline points="620,361.2 612.5,366.2 606.2,365 602.5,356.2 598.8,352.5 595,356.2 593.8,362.5 590,368.8 585,375 578.8,383.8 576.2,387.5 580,392.5 580,402.5 580,410 577.5,416.2"/>
<polyline points="556.2,388.8 562.5,395 565,401.2 567.5,407.5 575,410 582.5,411.2 591.2,413.8 593.8,420 592.5,427.5 588.8,435 585,442.5 586.2,450 588.8,455 586.2,462.5 588.8,472.5 590,478.8 585,483.8 581.2,490 578.8,497.5 580,503.8 585,507.5 587.5,515 586.2,521.2 582.5,525 578.8,520 576.2,517.5 577.5,523.8 581.2,530"/>
<polyline points="577.5,388.8 580,397.5 578.8,405 580,410"/>
<polyline points="453.8,475.5 465,483.8 475,490 485,493.8 495,497.5 499.5,501.2 500,507.5 506.2,512.5 513.8,518.8 520,525 525,530"/>
<polyline points="453.8,513.2 462.5,520 472.5,523.8 482.5,526.2 492.5,529"/>
<polyline points="296.2,388.8 305,395 312.5,400 318.8,403.8 327.5,405.5 337.5,407 347.5,407.5 355,406.2 365,407 375,404.5 382.5,405 388,409.5 389.5,415 386.2,420 380,423.8 372.5,427.5 370,432.5 372.5,438.8 377.5,443.8 385,446.2 395,451.2 405,457 415,461.2 425,463.8 435,466.2 445,470 452.5,475 460,481.2 467.5,487.5 475,491.2 481.2,493.8"/>
<polyline points="423,530 427.5,520 432.5,515 438.8,511.2 447.5,510.5 455,512.5 451.2,516.2 451.2,520 457.5,523.8 467.5,526.2 481.2,527.5"/>
<polyline points="293.8,498.2 302.5,500 308.8,505 313.8,511.2 317,518.8 315,525 312,530"/>
<polyline points="118.8,390 130,398.8 138.8,405 147.5,411.2 156.2,420 165,430 172.5,437.5 180,443.8 188.8,449.5 196.2,455 201.2,456.2 210,454.5 220,453.8 230,456.2 240,459.5 250,463 256.2,467.5 256.8,480.8 260.2,485.8 265.5,488.5 271.5,486.8 277.5,489.2 282.5,492.8 284.2,496 281,500.5 279.2,503 284.2,503.8 291.2,502 296.2,499.5 301.5,498.8"/>
<polyline points="158.8,245 168.8,247.5 180,253.8 190,258 200,265 210,273.8 220,279.5 230,282.5 233.8,287.5 237.5,295 241.2,303.8 245,315 248.8,325 251.2,335 253.8,342.5 258.8,350 267.5,360 275,367.5 285,376.2 296.2,386.2"/>
<polygon points="160,257.5 163.8,254.5 166.8,256.2 165.8,260.5 162,261.2"/>
<polygon points="282,172.5 289.5,162.5 296.7,165.9 305.2,170.6 308.4,176.3 305.2,183.9 298.6,184.4 291,180.1 285.4,178.2"/>
</g>
<rect x="516.5" y="52" width="102" height="40.3" fill="#fff" stroke="#000" stroke-width="1.3"/>
<text x="529.5" y="78.4" font-size="19.2" style="fill:#1a1aff;stroke:#1a1aff;stroke-width:0.35px" textLength="76" lengthAdjust="spacingAndGlyphs">©DHMZ</text>
<rect x="121" y="465.5" width="134.6" height="64" fill="#fff" stroke="#000" stroke-width="1.3"/>
<text x="248.2" y="483.2" font-size="9.6" text-anchor="end" textLength="99" lengthAdjust="spacingAndGlyphs">Temperatura zraka</text>
<text x="248.2" y="496.55" font-size="9.6" text-anchor="end" textLength="75.6" lengthAdjust="spacingAndGlyphs">na 2m (st. C)</text>
<text x="248.2" y="509.9" font-size="9.6" text-anchor="end" textLength="105.4" lengthAdjust="spacingAndGlyphs">start 00z18oct2013</text>
<text x="248.2" y="523.25" font-size="9.6" text-anchor="end" textLength="119" lengthAdjust="spacingAndGlyphs">termin 06Z20OCT2013</text>
<g fill="#000" shape-rendering="crispEdges"><rect x="119" y="50" width="501" height="2"/><rect x="119" y="529" width="501" height="2"/><rect x="119" y="50" width="2" height="481"/><rect x="618" y="50" width="2" height="481"/></g>
<rect x="136" y="531" width="1" height="3" fill="#000"/>
<text x="136.3" y="544" font-size="10.2" text-anchor="middle" textLength="16" lengthAdjust="spacingAndGlyphs">12E</text>
<rect x="196" y="531" width="1" height="3" fill="#000"/>
<text x="196.6" y="544" font-size="10.2" text-anchor="middle" textLength="16" lengthAdjust="spacingAndGlyphs">13E</text>
<rect x="256" y="531" width="1" height="3" fill="#000"/>
<text x="256.9" y="544" font-size="10.2" text-anchor="middle" textLength="16" lengthAdjust="spacingAndGlyphs">14E</text>
<rect x="317" y="531" width="1" height="3" fill="#000"/>
<text x="317.2" y="544" font-size="10.2" text-anchor="middle" textLength="16" lengthAdjust="spacingAndGlyphs">15E</text>
<rect x="377" y="531" width="1" height="3" fill="#000"/>
<text x="377.5" y="544" font-size="10.2" text-anchor="middle" textLength="16" lengthAdjust="spacingAndGlyphs">16E</text>
<rect x="437" y="531" width="1" height="3" fill="#000"/>
<text x="437.8" y="544" font-size="10.2" text-anchor="middle" textLength="16" lengthAdjust="spacingAndGlyphs">17E</text>
<rect x="498" y="531" width="1" height="3" fill="#000"/>
<text x="498.1" y="544" font-size="10.2" text-anchor="middle" textLength="16" lengthAdjust="spacingAndGlyphs">18E</text>
<rect x="558" y="531" width="1" height="3" fill="#000"/>
<text x="558.4" y="544" font-size="10.2" text-anchor="middle" textLength="16" lengthAdjust="spacingAndGlyphs">19E</text>
<rect x="618" y="531" width="1" height="3" fill="#000"/>
<text x="618.7" y="544" font-size="10.2" text-anchor="middle" textLength="16" lengthAdjust="spacingAndGlyphs">20E</text>
<rect x="116" y="106" width="3" height="1" fill="#000"/>
<text x="115" y="109.7" font-size="10.2" text-anchor="end" textLength="18" lengthAdjust="spacingAndGlyphs">46N</text>
<rect x="116" y="180" width="3" height="1" fill="#000"/>
<text x="115" y="183.5" font-size="10.2" text-anchor="end" textLength="18" lengthAdjust="spacingAndGlyphs">45N</text>
<rect x="116" y="254" width="3" height="1" fill="#000"/>
<text x="115" y="257.3" font-size="10.2" text-anchor="end" textLength="18" lengthAdjust="spacingAndGlyphs">44N</text>
<rect x="116" y="327" width="3" height="1" fill="#000"/>
<text x="115" y="331.1" font-size="10.2" text-anchor="end" textLength="18" lengthAdjust="spacingAndGlyphs">43N</text>
<rect x="116" y="401" width="3" height="1" fill="#000"/>
<text x="115" y="404.9" font-size="10.2" text-anchor="end" textLength="18" lengthAdjust="spacingAndGlyphs">42N</text>
<rect x="116" y="475" width="3" height="1" fill="#000"/>
<text x="115" y="478.7" font-size="10.2" text-anchor="end" textLength="18" lengthAdjust="spacingAndGlyphs">41N</text>
<text x="171" y="39.7" font-size="14.9" class="th" textLength="399" lengthAdjust="spacing">Temperatura zraka na 2m u 06 UTC 20OCT2013</text>
<g shape-rendering="crispEdges">
<rect x="651" y="77" width="15" height="19" fill="#FFEBDC"/>
<rect x="651" y="96" width="15" height="18" fill="#D8BFD8"/>
<rect x="651" y="114" width="15" height="19" fill="#DDA0DD"/>
<rect x="651" y="133" width="15" height="18" fill="#BA55D3"/>
<rect x="651" y="151" width="15" height="19" fill="#8B008B"/>
<rect x="651" y="170" width="15" height="19" fill="#960000"/>
<rect x="651" y="189" width="15" height="18" fill="#CD0000"/>
<rect x="651" y="207" width="15" height="19" fill="#FF0000"/>
<rect x="651" y="226" width="15" height="18" fill="#FF5A00"/>
<rect x="651" y="244" width="15" height="19" fill="#F08228"/>
<rect x="651" y="263" width="15" height="19" fill="#E6AF2D"/>
<rect x="651" y="282" width="15" height="18" fill="#E6DC32"/>
<rect x="651" y="300" width="15" height="19" fill="#F5EB5A"/>
<rect x="651" y="319" width="15" height="18" fill="#DCF5A0"/>
<rect x="651" y="337" width="15" height="19" fill="#A0E632"/>
<rect x="651" y="356" width="15" height="19" fill="#00DC00"/>
<rect x="651" y="375" width="15" height="18" fill="#00B400"/>
<rect x="651" y="393" width="15" height="19" fill="#008200"/>
<rect x="651" y="412" width="15" height="18" fill="#1E3CFF"/>
<rect x="651" y="430" width="15" height="19" fill="#00A0FF"/>
<rect x="651" y="449" width="15" height="19" fill="#B0E0E6"/>
<rect x="651" y="468" width="15" height="18" fill="#F0FFFF"/>
</g>
<text x="670" y="80.6" font-size="11.3" textLength="14.6" lengthAdjust="spacingAndGlyphs">29</text>
<text x="670" y="99.2" font-size="11.3" textLength="14.6" lengthAdjust="spacingAndGlyphs">27</text>
<text x="670" y="117.8" font-size="11.3" textLength="14.6" lengthAdjust="spacingAndGlyphs">25</text>
<text x="670" y="136.4" font-size="11.3" textLength="14.6" lengthAdjust="spacingAndGlyphs">23</text>
<text x="670" y="155" font-size="11.3" textLength="14.6" lengthAdjust="spacingAndGlyphs">21</text>
<text x="670" y="173.6" font-size="11.3" textLength="14.6" lengthAdjust="spacingAndGlyphs">19</text>
<text x="670" y="192.2" font-size="11.3" textLength="14.6" lengthAdjust="spacingAndGlyphs">17</text>
<text x="670" y="210.8" font-size="11.3" textLength="14.6" lengthAdjust="spacingAndGlyphs">15</text>
<text x="670" y="229.4" font-size="11.3" textLength="14.6" lengthAdjust="spacingAndGlyphs">13</text>
<text x="670" y="248" font-size="11.3" textLength="14.6" lengthAdjust="spacingAndGlyphs">11</text>
<text x="670" y="266.6" font-size="11.3" textLength="7" lengthAdjust="spacingAndGlyphs">9</text>
<text x="670" y="285.2" font-size="11.3" textLength="7" lengthAdjust="spacingAndGlyphs">7</text>
<text x="670" y="303.8" font-size="11.3" textLength="7" lengthAdjust="spacingAndGlyphs">5</text>
<text x="670" y="322.4" font-size="11.3" textLength="7" lengthAdjust="spacingAndGlyphs">3</text>
<text x="670" y="341" font-size="11.3" textLength="7" lengthAdjust="spacingAndGlyphs">1</text>
<text x="670" y="359.6" font-size="11.3" textLength="15.6" lengthAdjust="spacingAndGlyphs">−1</text>
<text x="670" y="378.2" font-size="11.3" textLength="15.6" lengthAdjust="spacingAndGlyphs">−3</text>
<text x="670" y="396.8" font-size="11.3" textLength="15.6" lengthAdjust="spacingAndGlyphs">−5</text>
<text x="670" y="415.4" font-size="11.3" textLength="15.6" lengthAdjust="spacingAndGlyphs">−7</text>
<text x="670" y="434" font-size="11.3" textLength="15.6" lengthAdjust="spacingAndGlyphs">−9</text>
<text x="670" y="452.6" font-size="11.3" textLength="23.2" lengthAdjust="spacingAndGlyphs">−11</text>
<text x="670" y="471.2" font-size="11.3" textLength="23.2" lengthAdjust="spacingAndGlyphs">−13</text>
<text x="670" y="489.8" font-size="11.3" textLength="23.2" lengthAdjust="spacingAndGlyphs">−15</text>
<text x="670" y="508.4" font-size="11.3" textLength="23.2" lengthAdjust="spacingAndGlyphs">−17</text>
<text x="663" y="528" font-size="9.5" textLength="36" lengthAdjust="spacingAndGlyphs">(st. C)</text>
</svg></body></html>
